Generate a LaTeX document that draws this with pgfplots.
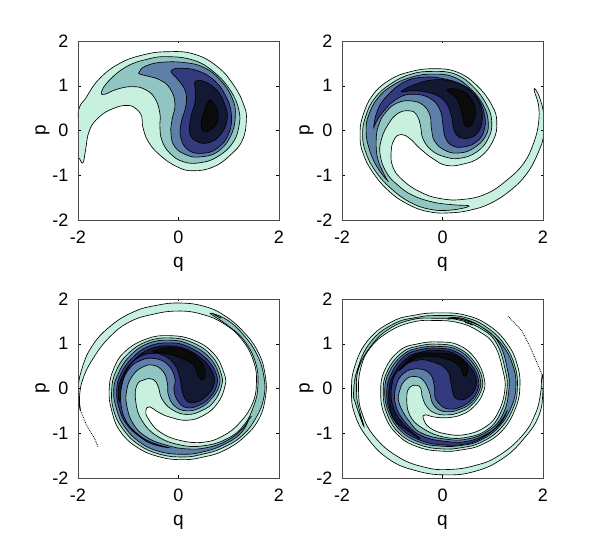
\documentclass[border=0pt]{standalone}
\usepackage{pgfplots}
\usepackage{fontspec}
\setmainfont{Liberation Sans}
\pgfplotsset{compat=1.18}
\definecolor{lev1}{HTML}{C8F0DF}
\definecolor{lev2}{HTML}{91C5C1}
\definecolor{lev3}{HTML}{5E80A8}
\definecolor{lev4}{HTML}{333A7E}
\definecolor{lev5}{HTML}{131933}
\definecolor{lev6}{HTML}{0A0C0C}
\pgfplotsset{
  panel/.style={
    anchor=south west, scale only axis, width=201pt, height=179pt,
    xmin=-2, xmax=2, ymin=-2, ymax=2,
    xtick={-2,0,2}, xticklabels={-2,0,2},
    ytick={-2,-1,0,1,2}, yticklabels={-2,-1,0,1,2},
    tick align=inside, ticks=major, tick style={black,line width=0.4pt},
    major tick length=2.5pt,
    axis line style={line width=0.7pt,black!70},
    axis on top,
    xlabel=q, ylabel=p,
    tick label style={font=\fontsize{18}{20}\selectfont},
    label style={font=\fontsize{19}{20}\selectfont},
    xticklabel style={yshift=-7pt},
    yticklabel style={xshift=-6pt},
    xlabel style={yshift=-7pt},
    ylabel style={yshift=-4pt},
  },
  lev/.style={draw=black, line width=0.65pt, fill=#1, smooth cycle, tension=0.75},
  tail/.style={draw=black, line width=0.8pt, densely dotted},
  bit/.style={draw=black, line width=0.9pt},
}
\begin{document}
\begin{tikzpicture}
\path[use as bounding box] (0,0) rectangle (599pt,545pt);

% top left
\begin{axis}[panel, at={(78pt,325pt)}]
\addplot[lev=lev1] coordinates {(-2.00,0.38) (-1.83,0.75) (-1.57,1.16) (-1.17,1.50) (-0.70,1.69) (-0.23,1.76) (0.30,1.71) (0.77,1.43) (1.10,1.01) (1.30,0.57) (1.35,0.23) (1.27,-0.22) (1.03,-0.55) (0.70,-0.81) (0.30,-0.90) (-0.03,-0.81) (-0.37,-0.55) (-0.60,-0.25) (-0.71,0.08) (-0.73,0.31) (-0.85,0.49) (-1.03,0.56) (-1.30,0.49) (-1.57,0.31) (-1.77,0.01) (-1.85,-0.44) (-1.90,-0.72) (-1.97,-0.63) (-2.02,-0.51)};
\addplot[lev=lev2] coordinates {(-1.53,0.87) (-1.37,1.13) (-1.03,1.43) (-0.63,1.59) (-0.23,1.65) (0.30,1.57) (0.70,1.31) (1.03,0.90) (1.20,0.46) (1.20,0.08) (1.07,-0.29) (0.77,-0.59) (0.43,-0.72) (0.10,-0.70) (-0.17,-0.51) (-0.33,-0.22) (-0.37,0.08) (-0.37,0.38) (-0.47,0.72) (-0.67,0.92) (-0.93,0.98) (-1.23,0.92) (-1.47,0.81)};
\addplot[lev=lev3] coordinates {(-0.78,1.31) (-0.67,1.43) (-0.37,1.52) (0.10,1.52) (0.50,1.41) (0.83,1.13) (1.07,0.72) (1.13,0.31) (1.03,-0.14) (0.77,-0.48) (0.43,-0.59) (0.17,-0.55) (-0.07,-0.37) (-0.15,-0.07) (-0.13,0.23) (-0.07,0.60) (-0.17,0.94) (-0.37,1.13) (-0.63,1.22) (-0.77,1.26)};
\addplot[lev=lev4] coordinates {(-0.13,1.35) (0.03,1.39) (0.37,1.34) (0.70,1.13) (0.93,0.79) (1.05,0.38) (1.00,-0.07) (0.77,-0.40) (0.47,-0.51) (0.20,-0.44) (0.05,-0.18) (0.05,0.16) (0.15,0.57) (0.13,0.90) (-0.03,1.16) (-0.13,1.28)};
\addplot[lev=lev5] coordinates {(0.33,1.09) (0.47,1.11) (0.73,0.94) (0.90,0.64) (0.97,0.27) (0.83,-0.10) (0.57,-0.28) (0.33,-0.22) (0.22,-0.03) (0.25,0.31) (0.33,0.64) (0.33,0.94)};
\addplot[lev=lev6] coordinates {(0.60,0.66) (0.70,0.60) (0.78,0.42) (0.77,0.19) (0.63,0.01) (0.50,-0.03) (0.45,0.12) (0.49,0.34)};
\end{axis}

% top right
\begin{axis}[panel, at={(342pt,325pt)}]
\addplot[lev=lev1] coordinates {(1.85,0.92) (1.95,0.68) (2.02,0.31) (2.02,-0.07) (1.91,-0.48) (1.68,-0.96) (1.35,-1.34) (0.95,-1.63) (0.55,-1.78) (0.15,-1.84) (-0.25,-1.82) (-0.65,-1.67) (-1.05,-1.37) (-1.39,-0.93) (-1.59,-0.48) (-1.64,-0.10) (-1.59,0.31) (-1.39,0.79) (-1.05,1.13) (-0.65,1.31) (-0.19,1.38) (0.28,1.31) (0.68,1.01) (0.98,0.57) (1.08,0.19) (1.01,-0.22) (0.75,-0.59) (0.41,-0.75) (0.08,-0.78) (-0.19,-0.63) (-0.45,-0.40) (-0.65,-0.18) (-0.82,-0.09) (-0.95,-0.18) (-1.02,-0.44) (-0.99,-0.81) (-0.79,-1.11) (-0.45,-1.37) (-0.05,-1.52) (0.41,-1.54) (0.88,-1.41) (1.28,-1.11) (1.61,-0.74) (1.81,-0.29) (1.91,0.16) (1.91,0.57) (1.83,0.87)};
\addplot[lev=lev2] coordinates {(0.53,-1.69) (0.15,-1.78) (-0.25,-1.76) (-0.65,-1.60) (-1.02,-1.30) (-1.32,-0.93) (-1.52,-0.51) (-1.59,-0.10) (-1.53,0.31) (-1.35,0.72) (-1.02,1.05) (-0.62,1.26) (-0.19,1.32) (0.25,1.26) (0.61,0.98) (0.88,0.57) (0.98,0.19) (0.91,-0.18) (0.68,-0.48) (0.35,-0.62) (0.05,-0.59) (-0.22,-0.44) (-0.39,-0.18) (-0.44,0.12) (-0.51,0.34) (-0.65,0.44) (-0.89,0.38) (-1.09,0.12) (-1.22,-0.22) (-1.24,-0.55) (-1.12,-0.93) (-0.89,-1.22) (-0.59,-1.45) (-0.19,-1.60) (0.21,-1.66)};
\addplot[lev=lev3] coordinates {(-1.09,-1.13) (-1.32,-0.78) (-1.47,-0.37) (-1.52,0.01) (-1.47,0.34) (-1.29,0.72) (-0.99,1.01) (-0.59,1.20) (-0.19,1.26) (0.21,1.20) (0.55,0.94) (0.81,0.57) (0.91,0.19) (0.85,-0.14) (0.61,-0.40) (0.35,-0.50) (0.08,-0.46) (-0.15,-0.25) (-0.22,0.04) (-0.25,0.34) (-0.39,0.57) (-0.62,0.66) (-0.89,0.62) (-1.12,0.42) (-1.27,0.12) (-1.32,-0.22) (-1.29,-0.63) (-1.17,-0.96)};
\addplot[lev=lev4] coordinates {(-1.37,0.06) (-1.29,0.46) (-1.09,0.79) (-0.75,1.09) (-0.39,1.19) (0.01,1.16) (0.41,1.01) (0.68,0.75) (0.83,0.38) (0.83,0.01) (0.68,-0.25) (0.41,-0.37) (0.18,-0.33) (0.05,-0.14) (0.01,0.12) (-0.05,0.46) (-0.25,0.72) (-0.59,0.81) (-0.89,0.72) (-1.15,0.46) (-1.32,0.19)};
\addplot[lev=lev5] coordinates {(-0.82,0.87) (-0.59,1.01) (-0.19,1.13) (0.21,1.09) (0.55,0.90) (0.75,0.57) (0.79,0.23) (0.71,-0.03) (0.55,-0.16) (0.35,-0.16) (0.23,0.01) (0.18,0.31) (0.08,0.60) (-0.12,0.79) (-0.45,0.88) (-0.69,0.88)};
\addplot[lev=lev6] coordinates {(0.09,0.90) (0.28,0.92) (0.51,0.79) (0.65,0.49) (0.61,0.19) (0.51,0.08) (0.43,0.16) (0.38,0.42) (0.28,0.72)};
\end{axis}

% bottom left
\begin{axis}[panel, at={(78pt,67pt)}]
\addplot[lev=lev1] coordinates {(-1.98,-0.34) (-2.00,-0.04) (-1.93,0.41) (-1.73,0.93) (-1.37,1.38) (-0.90,1.71) (-0.43,1.86) (0.03,1.91) (0.50,1.84) (0.90,1.64) (1.30,1.26) (1.60,0.78) (1.73,0.26) (1.73,-0.19) (1.60,-0.68) (1.30,-1.09) (0.90,-1.39) (0.50,-1.53) (0.10,-1.59) (-0.37,-1.53) (-0.83,-1.31) (-1.17,-0.94) (-1.33,-0.49) (-1.38,-0.04) (-1.30,0.41) (-1.07,0.82) (-0.63,1.11) (-0.17,1.18) (0.30,1.08) (0.70,0.78) (0.91,0.33) (0.92,0.03) (0.77,-0.34) (0.50,-0.60) (0.17,-0.71) (-0.17,-0.64) (-0.40,-0.53) (-0.57,-0.41) (-0.65,-0.49) (-0.60,-0.68) (-0.37,-0.97) (0.03,-1.16) (0.50,-1.20) (0.90,-1.05) (1.23,-0.75) (1.47,-0.34) (1.55,0.10) (1.50,0.59) (1.27,1.08) (0.90,1.45) (0.43,1.67) (-0.03,1.73) (-0.50,1.66) (-0.97,1.49) (-1.37,1.15) (-1.70,0.67) (-1.90,0.22) (-1.97,-0.19) (-1.95,-0.49)};
\addplot[tail] coordinates {(-1.95,-0.49) (-1.83,-0.82) (-1.67,-1.12) (-1.60,-1.30)};
\addplot[lev=lev2] coordinates {(0.63,1.68) (0.97,1.53) (1.30,1.19) (1.57,0.74) (1.70,0.26) (1.70,-0.19) (1.55,-0.64) (1.27,-1.05) (0.87,-1.33) (0.47,-1.47) (0.10,-1.53) (-0.37,-1.47) (-0.80,-1.25) (-1.11,-0.90) (-1.29,-0.49) (-1.33,-0.04) (-1.25,0.37) (-1.02,0.76) (-0.63,1.05) (-0.17,1.13) (0.27,1.03) (0.65,0.74) (0.85,0.33) (0.85,0.03) (0.70,-0.30) (0.47,-0.49) (0.17,-0.58) (-0.13,-0.47) (-0.33,-0.23) (-0.40,0.03) (-0.50,0.20) (-0.67,0.20) (-0.83,0.07) (-0.85,-0.30) (-0.73,-0.71) (-0.43,-1.06) (0.03,-1.26) (0.50,-1.28) (0.97,-1.12) (1.30,-0.82) (1.50,-0.38) (1.58,0.07) (1.53,0.59) (1.30,1.08) (0.98,1.41)};
\addplot[lev=lev3] coordinates {(1.40,-0.69) (1.23,-1.01) (0.87,-1.27) (0.47,-1.42) (0.10,-1.47) (-0.37,-1.41) (-0.77,-1.20) (-1.07,-0.86) (-1.23,-0.47) (-1.29,-0.04) (-1.20,0.33) (-0.98,0.71) (-0.62,1.00) (-0.17,1.08) (0.23,0.98) (0.60,0.71) (0.80,0.33) (0.80,0.03) (0.63,-0.26) (0.43,-0.43) (0.17,-0.50) (-0.07,-0.40) (-0.20,-0.15) (-0.22,0.11) (-0.30,0.37) (-0.50,0.52) (-0.73,0.47) (-0.93,0.26) (-1.03,-0.04) (-1.03,-0.38) (-0.90,-0.79) (-0.63,-1.09) (-0.23,-1.27) (0.17,-1.35) (0.57,-1.32) (0.97,-1.16) (1.27,-0.90)};
\addplot[lev=lev4] coordinates {(-0.20,-1.32) (-0.50,-1.25) (-0.73,-1.11) (-1.02,-0.82) (-1.18,-0.45) (-1.23,-0.04) (-1.15,0.32) (-0.93,0.67) (-0.60,0.94) (-0.17,1.02) (0.20,0.93) (0.55,0.67) (0.75,0.33) (0.75,0.03) (0.60,-0.23) (0.40,-0.38) (0.17,-0.43) (0.00,-0.30) (-0.09,-0.04) (-0.07,0.22) (-0.20,0.52) (-0.47,0.67) (-0.77,0.62) (-1.00,0.41) (-1.13,0.07) (-1.15,-0.30) (-1.05,-0.71) (-0.80,-1.03) (-0.50,-1.22)};
\addplot[lev=lev5] coordinates {(-1.17,-0.30) (-1.20,-0.04) (-1.11,0.29) (-0.90,0.62) (-0.57,0.88) (-0.17,0.95) (0.17,0.87) (0.50,0.63) (0.69,0.33) (0.70,0.07) (0.57,-0.15) (0.37,-0.30) (0.17,-0.28) (0.07,-0.04) (0.03,0.22) (-0.07,0.52) (-0.30,0.74) (-0.57,0.78) (-0.83,0.67) (-1.03,0.41) (-1.13,0.07)};
\addplot[lev=lev6] coordinates {(-0.51,0.82) (-0.17,0.91) (0.17,0.84) (0.43,0.62) (0.53,0.37) (0.49,0.20) (0.40,0.27) (0.30,0.52) (0.07,0.67) (-0.23,0.78)};
\addplot[bit] coordinates {(0.70,1.66) (0.85,1.57)};
\addplot[bit] coordinates {(1.40,-0.69) (1.45,-0.62)};
\end{axis}

% bottom right
\begin{axis}[panel, at={(342pt,67pt)}]
\addplot[lev=lev1] coordinates {(1.99,0.29) (2.00,-0.04) (1.92,-0.60) (1.62,-1.12) (1.19,-1.57) (0.65,-1.85) (0.05,-1.93) (-0.55,-1.83) (-1.08,-1.57) (-1.51,-1.08) (-1.75,-0.56) (-1.81,-0.08) (-1.75,0.48) (-1.48,1.08) (-1.01,1.49) (-0.55,1.64) (-0.08,1.69) (0.45,1.64) (0.92,1.41) (1.29,1.00) (1.49,0.52) (1.54,0.03) (1.45,-0.45) (1.19,-0.94) (0.79,-1.25) (0.39,-1.37) (-0.01,-1.40) (-0.48,-1.31) (-0.88,-1.05) (-1.15,-0.60) (-1.23,-0.08) (-1.15,0.41) (-0.85,0.85) (-0.48,1.00) (-0.08,1.04) (0.32,0.97) (0.65,0.67) (0.83,0.22) (0.80,-0.12) (0.62,-0.41) (0.39,-0.58) (0.12,-0.65) (-0.15,-0.64) (-0.35,-0.59) (-0.38,-0.68) (-0.25,-0.88) (0.05,-1.01) (0.45,-1.03) (0.85,-0.86) (1.10,-0.55) (1.24,-0.04) (1.20,0.41) (1.03,0.97) (0.72,1.28) (0.32,1.47) (-0.15,1.52) (-0.61,1.48) (-1.08,1.26) (-1.45,0.89) (-1.63,0.44) (-1.67,-0.08) (-1.60,-0.56) (-1.35,-1.08) (-0.88,-1.53) (-0.35,-1.76) (0.12,-1.81) (0.65,-1.72) (1.12,-1.50) (1.59,-1.05) (1.85,-0.56) (1.95,-0.12) (1.97,0.18)};
\addplot[tail] coordinates {(1.30,1.62) (1.58,1.29) (1.76,0.89) (1.99,0.29)};
\addplot[lev=lev2] coordinates {(-1.56,-0.86) (-1.73,-0.34) (-1.77,-0.08) (-1.69,0.44) (-1.43,1.04) (-0.98,1.44) (-0.51,1.59) (-0.08,1.63) (0.44,1.59) (0.89,1.36) (1.24,0.97) (1.44,0.50) (1.49,0.03) (1.41,-0.43) (1.15,-0.90) (0.77,-1.20) (0.39,-1.32) (-0.01,-1.35) (-0.45,-1.26) (-0.85,-1.01) (-1.10,-0.58) (-1.18,-0.08) (-1.10,0.38) (-0.81,0.80) (-0.47,0.95) (-0.08,0.99) (0.30,0.91) (0.61,0.63) (0.79,0.22) (0.75,-0.10) (0.57,-0.38) (0.35,-0.53) (0.09,-0.59) (-0.15,-0.55) (-0.31,-0.41) (-0.40,-0.19) (-0.43,0.00) (-0.51,0.07) (-0.65,0.03) (-0.71,-0.19) (-0.65,-0.60) (-0.38,-0.90) (0.05,-1.09) (0.49,-1.09) (0.89,-0.92) (1.15,-0.56) (1.28,-0.04) (1.25,0.41) (1.08,1.00) (0.79,1.32) (0.33,1.53) (-0.15,1.57) (-0.60,1.54) (-1.05,1.34) (-1.41,0.97) (-1.67,0.44) (-1.71,-0.08) (-1.67,-0.41)};
\addplot[lev=lev3] coordinates {(0.15,1.58) (0.45,1.55) (0.85,1.32) (1.21,0.94) (1.41,0.48) (1.46,0.03) (1.37,-0.41) (1.12,-0.86) (0.75,-1.16) (0.39,-1.27) (-0.01,-1.29) (-0.43,-1.21) (-0.81,-0.97) (-1.06,-0.56) (-1.15,-0.08) (-1.06,0.37) (-0.78,0.76) (-0.45,0.91) (-0.08,0.94) (0.29,0.87) (0.59,0.59) (0.75,0.22) (0.72,-0.08) (0.55,-0.34) (0.33,-0.47) (0.12,-0.52) (-0.08,-0.47) (-0.21,-0.30) (-0.26,-0.08) (-0.38,0.18) (-0.55,0.27) (-0.73,0.20) (-0.85,-0.04) (-0.86,-0.34) (-0.65,-0.75) (-0.41,-1.00) (0.05,-1.13) (0.49,-1.13) (0.92,-0.94) (1.20,-0.58) (1.32,-0.04) (1.29,0.44) (1.12,1.02) (0.80,1.36) (0.42,1.53)};
\addplot[lev=lev4] coordinates {(1.29,-0.49) (1.12,-0.82) (0.73,-1.14) (0.39,-1.25) (-0.01,-1.26) (-0.41,-1.17) (-0.78,-0.94) (-1.03,-0.55) (-1.11,-0.08) (-1.01,0.35) (-0.75,0.73) (-0.43,0.87) (-0.08,0.90) (0.27,0.82) (0.55,0.56) (0.71,0.22) (0.69,-0.06) (0.53,-0.30) (0.32,-0.43) (0.13,-0.46) (-0.03,-0.38) (-0.15,-0.19) (-0.16,0.03) (-0.25,0.33) (-0.51,0.44) (-0.78,0.33) (-0.93,0.03) (-0.93,-0.38) (-0.73,-0.77) (-0.41,-1.06) (0.05,-1.18) (0.49,-1.18) (0.91,-1.00) (1.15,-0.75)};
\addplot[lev=lev5] coordinates {(-0.45,-1.12) (-0.75,-0.90) (-0.93,-0.73) (-1.03,-0.53) (-1.07,-0.08) (-0.97,0.32) (-0.71,0.68) (-0.40,0.82) (-0.08,0.85) (0.24,0.78) (0.52,0.52) (0.67,0.22) (0.64,-0.03) (0.49,-0.21) (0.33,-0.25) (0.22,-0.15) (0.17,0.11) (0.09,0.41) (-0.18,0.59) (-0.51,0.63) (-0.85,0.44) (-1.00,0.11) (-1.00,-0.34) (-0.81,-0.75)};
\addplot[lev=lev6] coordinates {(-0.85,0.41) (-0.55,0.74) (-0.15,0.79) (0.22,0.74) (0.49,0.52) (0.44,0.27) (0.32,0.52) (0.05,0.67) (-0.28,0.71) (-0.58,0.65)};
\addplot[bit] coordinates {(0.10,1.55) (0.25,1.57)};
\addplot[bit] coordinates {(0.45,1.48) (0.60,1.42)};
\addplot[bit] coordinates {(-1.65,-0.56) (-1.57,-0.84)};
\end{axis}
\end{tikzpicture}
\end{document}
